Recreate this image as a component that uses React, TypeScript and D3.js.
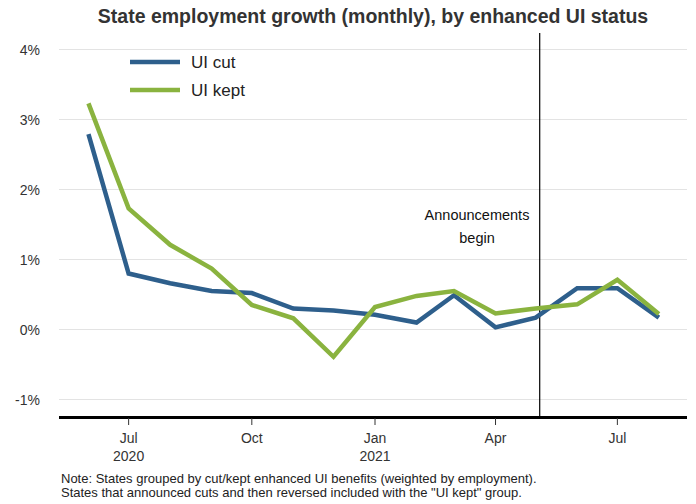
import React from "react";
import * as d3 from "d3";

const months = [
  "2020-06-01", "2020-07-01", "2020-08-01", "2020-09-01", "2020-10-01",
  "2020-11-01", "2020-12-01", "2021-01-01", "2021-02-01", "2021-03-01",
  "2021-04-01", "2021-05-01", "2021-06-01", "2021-07-01", "2021-08-01",
];
const uiCut = [2.79, 0.8, 0.66, 0.55, 0.52, 0.3, 0.27, 0.21, 0.1, 0.49, 0.03, 0.17, 0.59, 0.59, 0.17];
const uiKept = [3.23, 1.73, 1.21, 0.87, 0.35, 0.16, -0.39, 0.32, 0.48, 0.55, 0.23, 0.3, 0.36, 0.71, 0.22];
const yTicks = [-1, 0, 1, 2, 3, 4];
const xTicks = [
  { date: "2020-07-01", l1: "Jul", l2: "2020" },
  { date: "2020-10-01", l1: "Oct", l2: "" },
  { date: "2021-01-01", l1: "Jan", l2: "2021" },
  { date: "2021-04-01", l1: "Apr", l2: "" },
  { date: "2021-07-01", l1: "Jul", l2: "" },
];
const announceDate = "2021-05-04";
const seriesNames = ["UI cut", "UI kept"];
const colors = ["#2e5f8c", "#8ab33f"];
const title = "State employment growth (monthly), by enhanced UI status";
const notes = [
  "Note: States grouped by cut/kept enhanced UI benefits (weighted by employment).",
  "States that announced cuts and then reversed included with the \"UI kept\" group.",
];

const parse = (s: string) => new Date(s + "T00:00:00");

export default function App() {
  const W = 696, H = 504;
  const x = d3.scaleTime().domain([parse("2020-05-10"), parse("2021-08-22")]).range([59, 687]);
  const y = d3.scaleLinear().domain([-1, 4]).range([399.5, 49.5]);
  const line = d3.line<number>()
    .x((_, i) => x(parse(months[i])))
    .y((d) => y(d));
  const series = [uiCut, uiKept];
  const font = "'Liberation Sans', Arial, sans-serif";
  const ax = x(parse(announceDate));
  return (
    <svg width={W} height={H} style={{ position: "absolute", left: 0, top: 0, fontFamily: font }}>
      <rect width={W} height={H} fill="#fff" />
      <text x={373} y={23} textAnchor="middle" fontSize={19.5} fontWeight="bold" fill="#333">{title}</text>
      {yTicks.map((t) => (
        <g key={t}>
          <line x1={59} x2={687} y1={y(t)} y2={y(t)} stroke="#e3e3e3" strokeWidth={1.2} />
          <text x={40} y={y(t) + 5} textAnchor="end" fontSize={14} fill="#333">{t}%</text>
        </g>
      ))}
      <line x1={ax} x2={ax} y1={33} y2={417} stroke="#000" strokeWidth={1.2} />
      <text x={477} y={220} textAnchor="middle" fontSize={14.5} fill="#111">Announcements</text>
      <text x={477} y={243} textAnchor="middle" fontSize={14.5} fill="#111">begin</text>
      {series.map((s, i) => (
        <path key={i} d={line(s) || ""} fill="none" stroke={colors[i]} strokeWidth={4.5} strokeLinejoin="miter" />
      ))}
      <line x1={59} x2={687} y1={417.5} y2={417.5} stroke="#000" strokeWidth={3} />
      {xTicks.map((t, i) => {
        const px = x(parse(t.date));
        return (
          <g key={i}>
            <line x1={px} x2={px} y1={418} y2={425} stroke="#333" strokeWidth={1} />
            <text x={px} y={443} textAnchor="middle" fontSize={14} fill="#333">{t.l1}</text>
            {t.l2 && <text x={px} y={461} textAnchor="middle" fontSize={14} fill="#333">{t.l2}</text>}
          </g>
        );
      })}
      {seriesNames.map((n, i) => (
        <g key={n}>
          <line x1={130} x2={180} y1={62 + i * 28} y2={62 + i * 28} stroke={colors[i]} strokeWidth={4.5} />
          <text x={191} y={68 + i * 28} fontSize={17} fill="#222">{n}</text>
        </g>
      ))}
      {notes.map((n, i) => (
        <text key={i} x={61} y={483 + i * 14} fontSize={13} fill="#222">{n}</text>
      ))}
    </svg>
  );
}
